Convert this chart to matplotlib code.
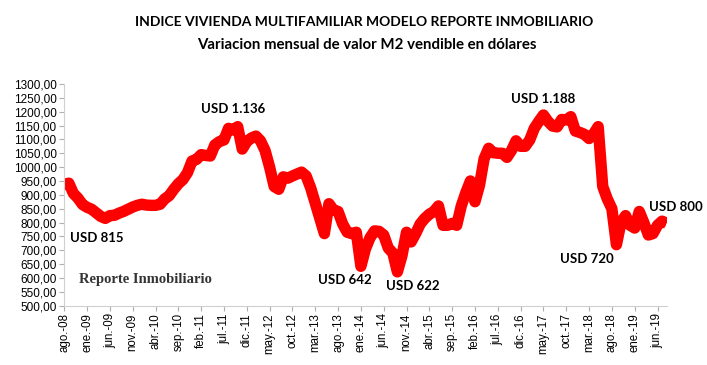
import matplotlib
matplotlib.use("Agg")
import matplotlib.pyplot as plt
import numpy as np

# Monthly values, ago-08 .. ago-19
values = [
    938, 942, 905, 888, 865, 855, 848, 835, 822, 815,
    825, 826, 834, 840, 848, 856, 862, 866, 863, 862,
    862, 866, 885, 897, 920, 940, 955, 980, 1022, 1028,
    1045, 1042, 1040, 1080, 1092, 1098, 1140, 1134, 1146, 1065,
    1092, 1105, 1112, 1095, 1060, 1000, 930, 920, 965, 960,
    968, 975, 982, 968, 925, 870, 815, 760, 868, 845,
    840, 795, 765, 760, 765, 642, 705, 745, 770, 768,
    755, 708, 690, 622, 680, 765, 730, 760, 795, 815,
    830, 840, 860, 790, 790, 797, 790, 860, 908, 950,
    875, 935, 1030, 1068, 1052, 1050, 1050, 1035, 1060, 1095,
    1075, 1075, 1098, 1140, 1165, 1188, 1165, 1148, 1145, 1172,
    1170, 1182, 1130, 1125, 1118, 1103, 1120, 1146, 930, 885,
    850, 720, 800, 825, 790, 780, 840, 800, 755, 760,
    790, 805, 797,
]

tick_labels = ["ago.-08", "ene.-09", "jun.-09", "nov.-09", "abr.-10", "sep.-10",
               "feb.-11", "jul.-11", "dic.-11", "may.-12", "oct.-12", "mar.-13",
               "ago.-13", "ene.-14", "jun.-14", "nov.-14", "abr.-15", "sep.-15",
               "feb.-16", "jul.-16", "dic.-16", "may.-17", "oct.-17", "mar.-18",
               "ago.-18", "ene.-19", "jun.-19"]
tick_step = 5

y_ticks = list(range(500, 1301, 50))
y_tick_labels = [f"{v},00" for v in y_ticks]

# annotations: (index of point, text, offset in points)
annots = [
    (9, "USD 815", (-6, -14)),
    (38, "USD 1.136", (-3.5, 13)),
    (65, "USD 642", (-11.5, -10)),
    (73, "USD 622", (11, -10)),
    (105, "USD 1.188", (0, 11.5)),
    (121, "USD 720", (-21, -10)),
    (132, "USD 800", (7, 12)),
]

title1 = "INDICE VIVIENDA MULTIFAMILIAR MODELO REPORTE INMOBILIARIO"
title2 = "Variacion mensual de valor M2 vendible en dólares"
watermark = "Reporte Inmobiliario"

fig = plt.figure(figsize=(7.07, 3.65), dpi=100)
ax = fig.add_axes([0.0909, 0.1625, 0.852, 0.6075])

x = np.arange(len(values))
ax.plot(x, values, color="#ff0000", linewidth=8.2, solid_joinstyle="round",
        solid_capstyle="butt")

ax.set_xlim(0, len(values) - 1)
ax.set_ylim(500, 1300)
ax.set_yticks(y_ticks)
ax.set_yticklabels(y_tick_labels, fontsize=8.5, family="Liberation Sans")
ax.set_xticks(np.arange(0, tick_step * len(tick_labels), tick_step))
ax.set_xticklabels(tick_labels, rotation=90, fontsize=8.3, family="Liberation Sans")

for s in ["top", "right"]:
    ax.spines[s].set_visible(False)
for s in ["left", "bottom"]:
    ax.spines[s].set_color("#d0d0d0")
    ax.spines[s].set_linewidth(0.8)
ax.tick_params(axis="both", colors="#b0b0b0", length=3.5, width=0.8,
               labelcolor="black", pad=2)

for i, txt, off in annots:
    ax.annotate(txt, xy=(i, values[i]), xytext=off, textcoords="offset points",
                ha="center", va="center", fontsize=9.5, fontweight="bold",
                family="Lato", color="black")

fig.text(0.515, 0.94, title1, ha="center", va="center", fontsize=10,
         fontweight="bold", family="Lato")
fig.text(0.519, 0.877, title2, ha="center", va="center", fontsize=10.8,
         fontweight="bold", family="Lato")

ax.text(0.025, 0.12, watermark, transform=ax.transAxes,
        ha="left", va="center", fontsize=10.5, fontweight="bold",
        family="Liberation Serif", color="#333333")

fig.savefig("out.png", dpi=100)
